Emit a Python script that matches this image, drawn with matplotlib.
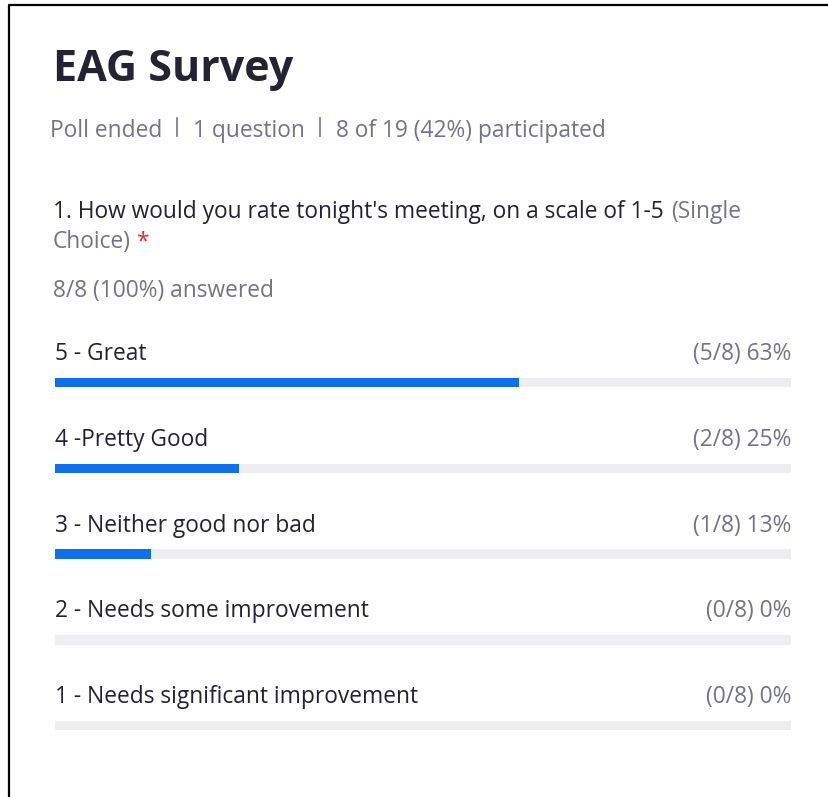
import matplotlib
matplotlib.use('Agg')
import matplotlib.pyplot as plt

W, H = 829, 797

title = "EAG Survey"
subtitle = ["Poll ended", "1 question", "8 of 19 (42%) participated"]
question = "1. How would you rate tonight's meeting, on a scale of 1-5 "
question_note = ["(Single", "Choice)"]
answered = "8/8 (100%) answered"

options = ["5 - Great", "4 -Pretty Good", "3 - Neither good nor bad",
           "2 - Needs some improvement", "1 - Needs significant improvement"]
counts = [5, 2, 1, 0, 0]
total = 8

DARK = '#232333'
GREY = '#747487'
BLUE = '#0e71eb'
TRACK = '#ededf2'
FONT = 'Open Sans'
FS = 22.8  # body text size in pixels

def pt(px):
    return px * 72 / 100.0

fig = plt.figure(figsize=(W / 100, H / 100), dpi=100)
ax = fig.add_axes([0, 0, 1, 1])
ax.set_xlim(0, W)
ax.set_ylim(H, 0)
ax.axis('off')

# frame (left and top edges only visible)
ax.plot([9, 9, W], [H, 5, 5], color='black', lw=1.6, solid_capstyle='butt')

ax.text(53, 81, title, fontsize=pt(43), fontweight='bold', color=DARK,
        family=FONT, va='baseline')

r = fig.canvas.get_renderer()
inv = ax.transData.inverted()

def run(x, y, s, color, size=FS, weight='normal'):
    t = ax.text(x, y, s, fontsize=pt(size), color=color, family=FONT,
                va='baseline', fontweight=weight)
    bb = t.get_window_extent(renderer=r)
    return inv.transform((bb.x1, 0))[0]

# subtitle with separators
x = 50
for i, part in enumerate(subtitle):
    x = run(x, 137, part, GREY)
    if i < len(subtitle) - 1:
        ax.plot([x + 15, x + 15], [118, 136], color=GREY, lw=1.2)
        x += 31

x = run(53, 218, question, DARK)
run(x + 2, 218, question_note[0], GREY)
x = run(53, 248, question_note[1], GREY)
run(x + 5, 248, "*", '#e02f2f')
run(53, 297, answered, GREY)

track_left, track_right = 55, 791
bar_h = 9.5
y0, step = 382.5, 85.8
ys = [y0 + i * step for i in range(len(options))]
pcts = [int(c * 100 / total + 0.5) for c in counts]
widths = [(track_right - track_left) * p / 100 for p in pcts]

ax.barh(ys, [track_right - track_left] * len(ys), height=bar_h, left=track_left,
        color=TRACK, edgecolor='none')
ax.barh(ys, widths, height=bar_h, left=track_left, color=BLUE, edgecolor='none')

for yb, lab, c, p in zip(ys, options, counts, pcts):
    ax.text(55, yb - 22.5, lab, fontsize=pt(FS), color=DARK, family=FONT,
            va='baseline')
    ax.text(791, yb - 22.5, f"({c}/{total}) {p}%", fontsize=pt(FS), color=GREY,
            family=FONT, va='baseline', ha='right')

fig.savefig('out.png', dpi=100)
